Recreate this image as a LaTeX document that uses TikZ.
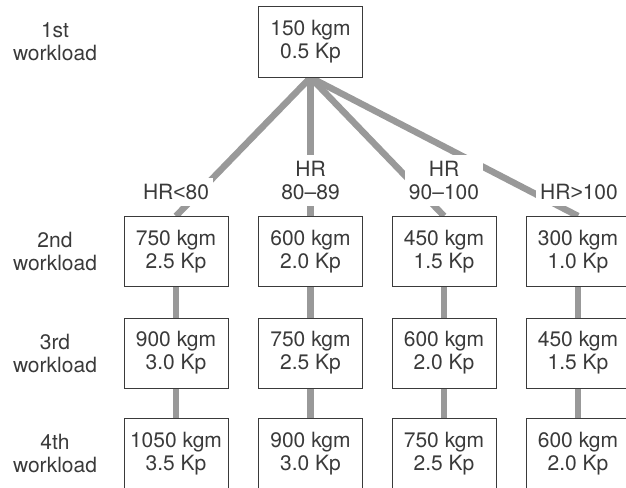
\documentclass[tikz,border=0pt]{standalone}
\usepackage{fontspec}
\setmainfont{TeX Gyre Heros}
\newfontfamily\relfont{Liberation Sans}
\usetikzlibrary{backgrounds}
\definecolor{ink}{HTML}{3A3A3A}
\definecolor{bar}{HTML}{999999}
\newcommand{\lessmark}{{\relfont<}}
\newcommand{\moremark}{{\relfont>}}
\begin{document}
\begin{tikzpicture}[x=1pt,y=-1pt,
  every node/.style={font=\fontsize{21}{23}\selectfont, text=ink},
  load/.style={draw=ink, line width=1pt, fill=white, minimum width=104pt,
    minimum height=70pt, align=center, inner sep=0pt},
  hr/.style={fill=white, align=center, inner xsep=4pt, inner ysep=6pt, anchor=south},
  rowlabel/.style={align=center},
  link/.style={draw=bar, line width=6.5pt}]
\useasboundingbox (0,0) rectangle (626,487);
\clip (0,0) rectangle (626,487);

% workload row labels
\node[rowlabel] (r1) at (55,42)    {1st\\workload};
\node[rowlabel] (r2) at (55,251.5) {2nd\\workload};
\node[rowlabel] (r3) at (55,353)   {3rd\\workload};
\node[rowlabel] (r4) at (55,453.5) {4th\\workload};

% first workload
\node[load] (top) at (310.5,42) {150 kgm\\0.5 Kp};

% column HR<80
\node[load] (a2) at (176,251.5) {750 kgm\\2.5 Kp};
\node[load] (a3) at (176,353)   {900 kgm\\3.0 Kp};
\node[load] (a4) at (176,453.5) {1050 kgm\\3.5 Kp};
% column HR 80-89
\node[load] (b2) at (310.5,251.5) {600 kgm\\2.0 Kp};
\node[load] (b3) at (310.5,353)   {750 kgm\\2.5 Kp};
\node[load] (b4) at (310.5,453.5) {900 kgm\\3.0 Kp};
% column HR 90-100
\node[load] (c2) at (444,251.5) {450 kgm\\1.5 Kp};
\node[load] (c3) at (444,353)   {600 kgm\\2.0 Kp};
\node[load] (c4) at (444,453.5) {750 kgm\\2.5 Kp};
% column HR>100
\node[load] (d2) at (578,251.5) {300 kgm\\1.0 Kp};
\node[load] (d3) at (578,353)   {450 kgm\\1.5 Kp};
\node[load] (d4) at (578,453.5) {600 kgm\\2.0 Kp};

% heart-rate labels
\node[hr] (la) at (176,206)   {HR\lessmark 80};
\node[hr] (lb) at (310.5,206) {HR\\80\textendash 89};
\node[hr] (lc) at (444,206)   {HR\\90\textendash 100};
\node[hr] (ld) at (579,206)   {HR\moremark 100};

% connecting bars behind boxes and labels
\begin{scope}[on background layer]
  \foreach \c in {a,b,c,d} {
    \draw[link] (top.south) -- (\c2.north);
    \draw[link] (\c2.south) -- (\c3.north);
    \draw[link] (\c3.south) -- (\c4.north);
  }
\end{scope}
\end{tikzpicture}
\end{document}
